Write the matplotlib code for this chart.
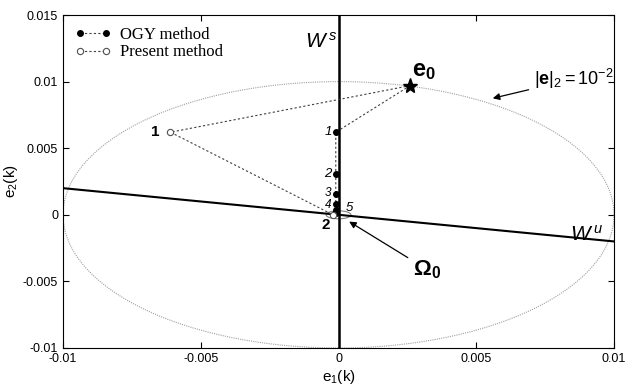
import matplotlib.pyplot as plt
import numpy as np
from matplotlib.patches import Ellipse

plt.rcParams["mathtext.fontset"] = "custom"
plt.rcParams["mathtext.rm"] = "Liberation Sans"
plt.rcParams["mathtext.it"] = "Liberation Sans:italic"
plt.rcParams["mathtext.bf"] = "Liberation Sans:bold"

# error-norm boundary |e|_2 = 1e-2
radius = 0.01
e0 = (0.0026, 0.0097)

# OGY trajectory (points land on the stable manifold)
ogy_x = [0.0026, -0.0001, -0.0001, -0.0001, -0.0001, -0.0001, -0.0001, -0.0001]
ogy_y = [0.0097, 0.0062, 0.0031, 0.00155, 0.00078, 0.00039, 0.0002, 0.0001]
ogy_labels = ["1", "2", "3", "4", "5"]

# present method trajectory
present_x = [0.0026, -0.0061, -0.0002]
present_y = [0.0097, 0.0062, 0.0000]
present_labels = ["1", "2"]

# manifolds
ws_x = [0.0, 0.0]
ws_y = [-0.01, 0.015]
wu_x = [-0.01, 0.01]
wu_y = [0.002, -0.002]

xticks = [-0.01, -0.005, 0, 0.005, 0.01]
yticks = [-0.01, -0.005, 0, 0.005, 0.01, 0.015]

sans = "Liberation Sans"
serif = "Liberation Serif"

fig = plt.figure(figsize=(6.34, 3.87), dpi=100)
ax = fig.add_axes([0.0994, 0.1008, 0.8691, 0.8604])

theta = np.linspace(0, 2 * np.pi, 400)
ax.plot(radius * np.cos(theta), radius * np.sin(theta), color="#a0a0a0", lw=0.8, ls=(0, (1, 1)))

ax.plot(ws_x, ws_y, color="black", lw=1.8)
ax.plot(wu_x, wu_y, color="black", lw=1.5)

ax.add_patch(Ellipse((0, 0), 0.0009, 0.0006, fill=False, ec="#808080", lw=0.8))

ax.plot(ogy_x, ogy_y, color="#404040", ls=(0, (2, 2)), lw=0.8, marker="o",
        ms=4, mfc="black", mec="black", label="OGY method", zorder=4)
ax.plot(present_x, present_y, color="#404040", ls=(0, (2, 2)), lw=0.8, marker="o",
        ms=4.5, mfc="white", mec="#505050", mew=0.8, label="Present method", zorder=4)

ax.plot(*e0, marker="*", ms=11, color="black", zorder=5)
ax.text(e0[0] + 0.00005, e0[1] + 0.0003, r"$\mathbf{e_0}$", fontsize=17, ha="left", va="bottom")

for lab, x, y in zip(ogy_labels, ogy_x[1:], ogy_y[1:]):
    if lab == "5":
        ax.text(x + 0.00035, y + 0.0001, lab, fontsize=9.5, style="italic", family=sans, ha="left", va="center")
    elif lab == "4":
        ax.text(x - 0.00015, y - 0.00005, lab, fontsize=8.5, style="italic", family=sans, ha="right", va="center")
    elif lab == "3":
        ax.text(x - 0.00015, y + 0.0001, lab, fontsize=8.5, style="italic", family=sans, ha="right", va="center")
    else:
        ax.text(x - 0.00015, y, lab, fontsize=9.5, style="italic", family=sans, ha="right", va="center")

ax.text(present_x[1] - 0.0004, present_y[1], present_labels[0], fontsize=11, weight="bold",
        family=sans, ha="right", va="center")
ax.text(present_x[2] - 0.0001, present_y[2] - 0.0008, present_labels[1], fontsize=11, weight="bold",
        family=sans, ha="right", va="center")

ax.text(-0.0012, 0.013, r"$W^{\,s}$", fontsize=15, ha="left", va="center")
ax.text(0.0084, -0.0015, r"$W^{\,u}$", fontsize=15, ha="left", va="center")

ax.annotate(r"$|\mathbf{e}|_2 = 10^{-2}$", xy=(0.0055, 0.0087), xytext=(0.0071, 0.0102),
            fontsize=13, ha="left", va="center",
            arrowprops=dict(arrowstyle="-|>", color="black", lw=0.9, mutation_scale=10))
ax.annotate(r"$\mathbf{\Omega_0}$", xy=(0.0003, -0.0004), xytext=(0.0027, -0.0041),
            fontsize=16, ha="left", va="center",
            arrowprops=dict(arrowstyle="-|>", color="black", lw=0.9, mutation_scale=10,
                            shrinkA=2))

ax.set_xlim(-0.01, 0.01)
ax.set_ylim(-0.01, 0.015)
ax.set_xticks(xticks)
ax.set_yticks(yticks)
ax.set_xticklabels([f"{t:g}" for t in xticks], family=sans, fontsize=9)
ax.set_yticklabels([f"{t:g}" for t in yticks], family=sans, fontsize=9)
ax.tick_params(direction="in", top=True, right=True, length=4, width=0.8)
ax.set_xlabel(r"e$_1$(k)", family=sans, fontsize=11, labelpad=2)
ax.set_ylabel(r"e$_2$(k)", family=sans, fontsize=11, labelpad=2)

leg = ax.legend(loc="upper left", frameon=False, numpoints=2, handlelength=2.2,
                prop={"family": serif, "size": 12}, borderaxespad=0.3,
                handletextpad=0.5, labelspacing=0.1)

fig.savefig("out.png", dpi=100)
